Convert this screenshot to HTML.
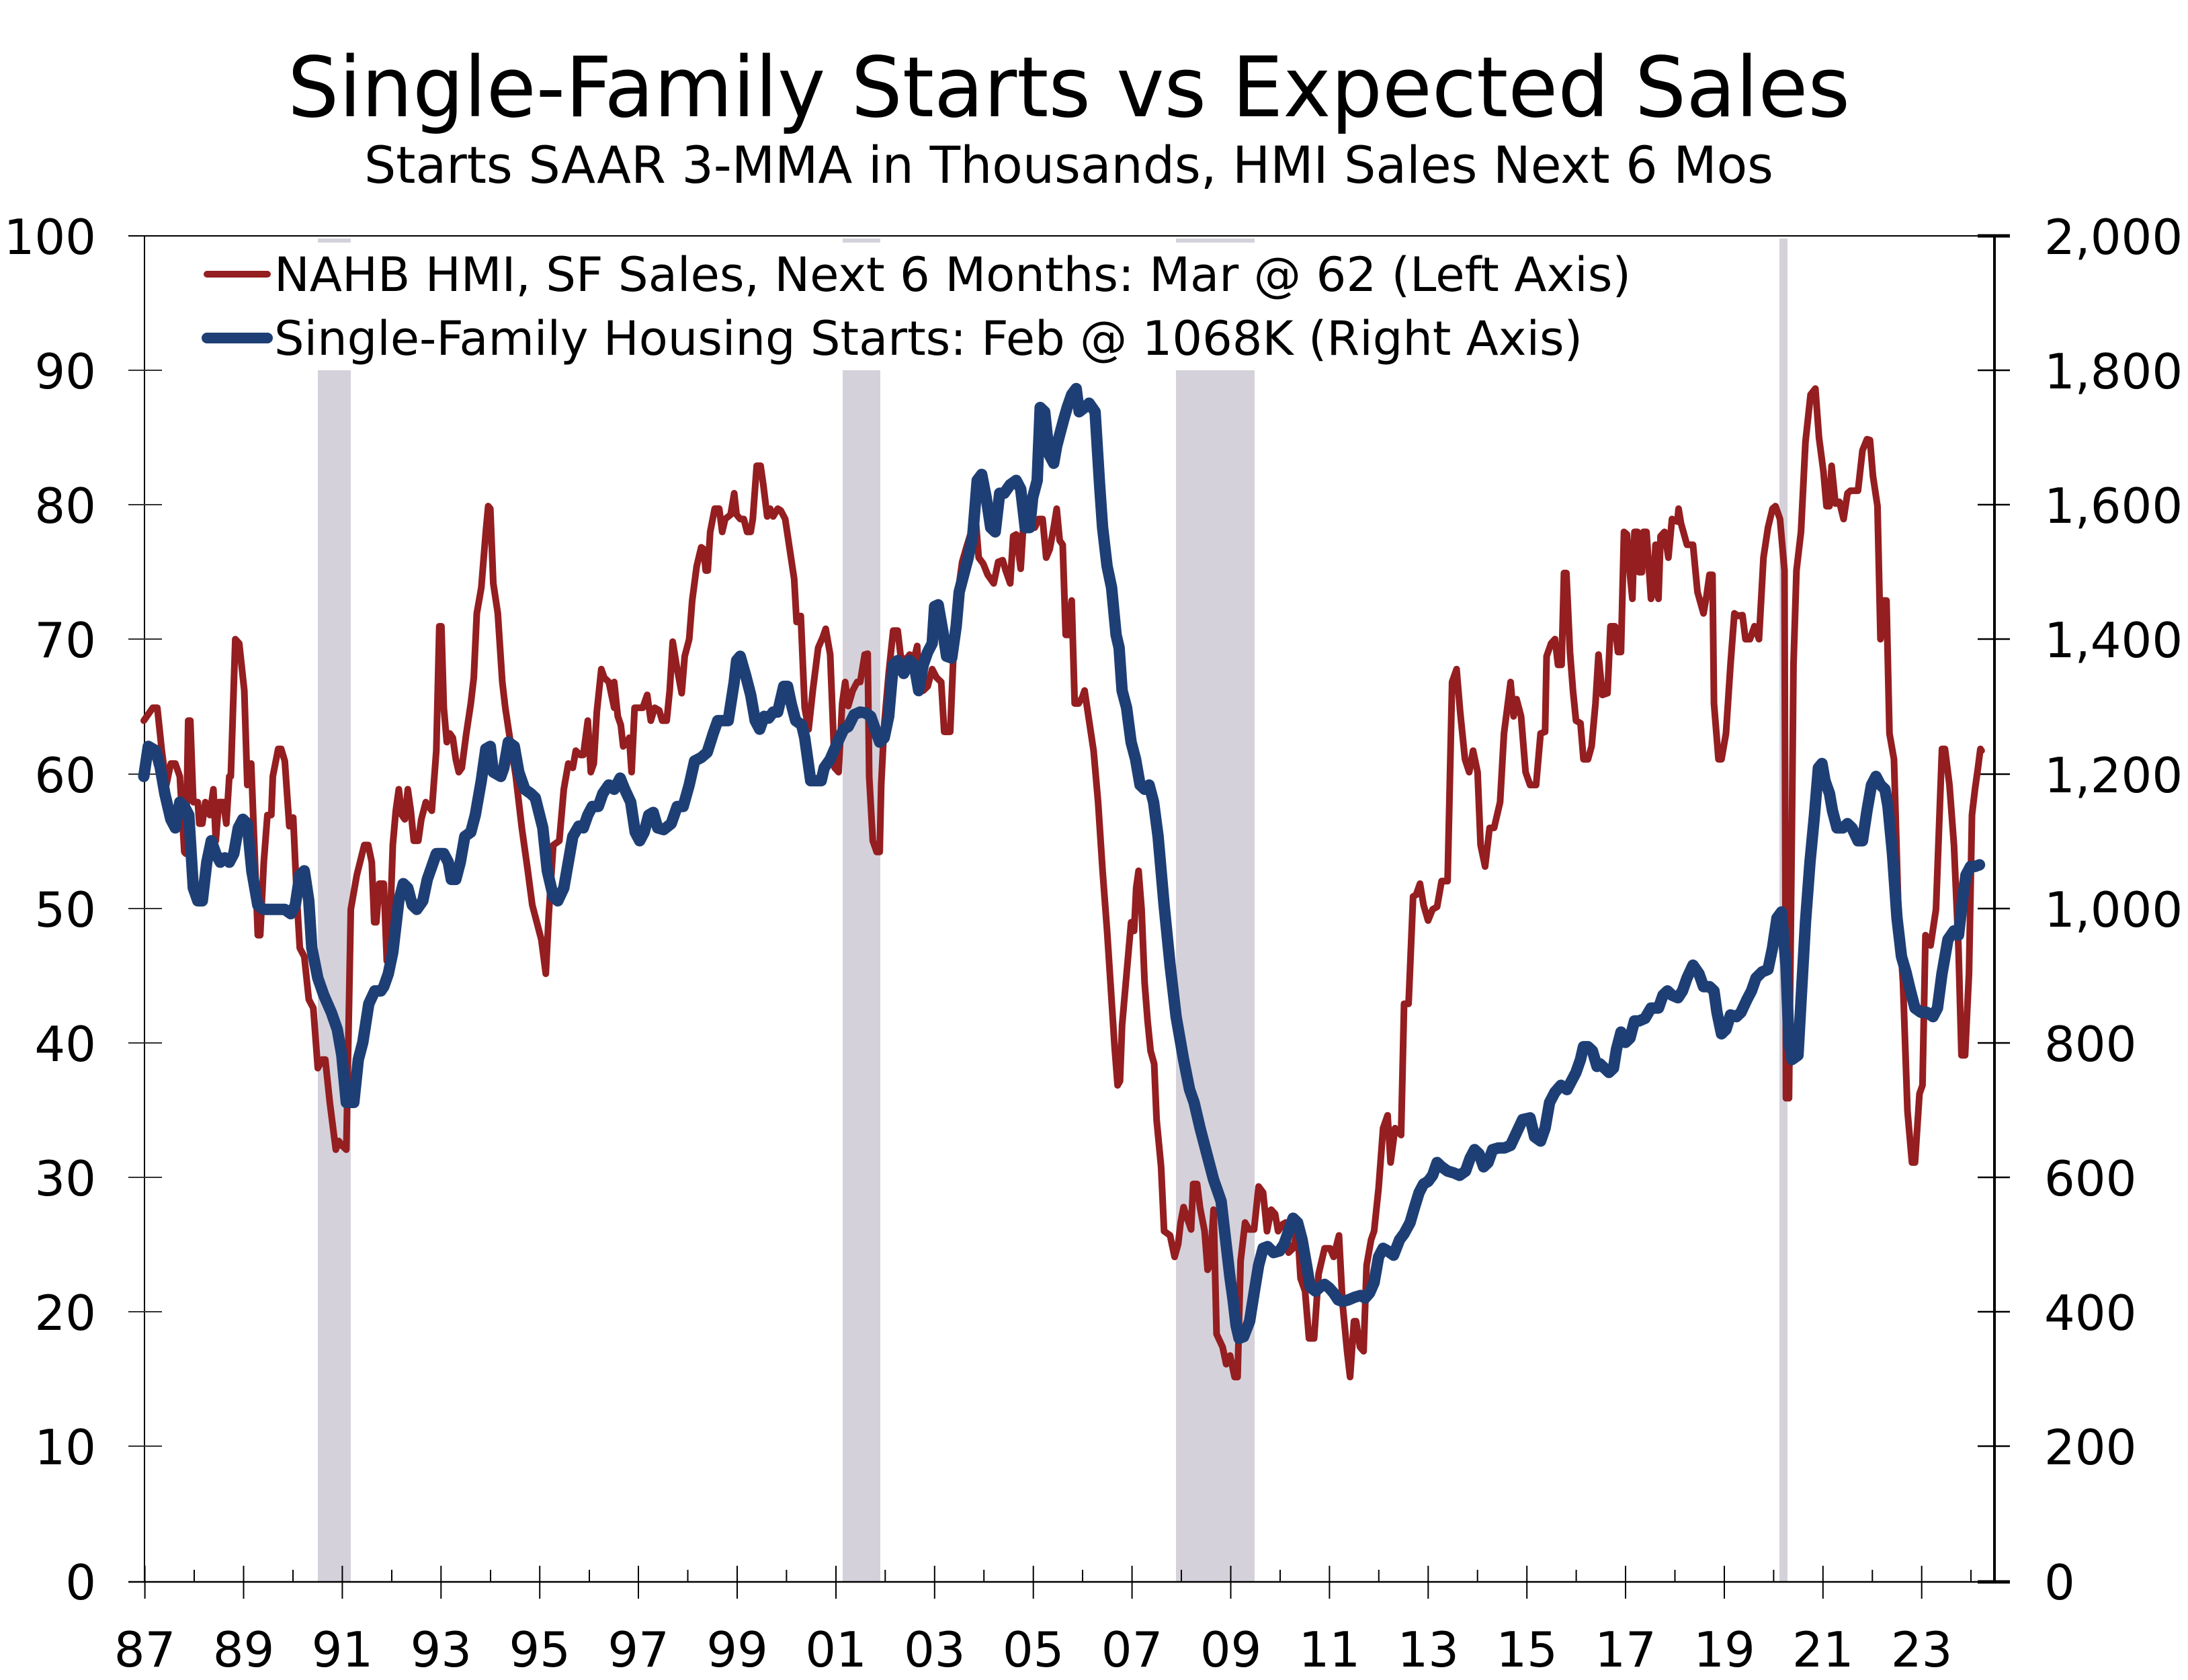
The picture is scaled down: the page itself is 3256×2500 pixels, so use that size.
<!DOCTYPE html>
<html><head><meta charset="utf-8"><style>
html,body{margin:0;padding:0;background:#fff;}
svg{display:block;}
text{font-family:"DejaVu Sans","Liberation Sans",sans-serif;fill:#000;}
</style></head><body>
<svg width="3256" height="2500" viewBox="0 0 3256 2500" xmlns="http://www.w3.org/2000/svg">
<rect width="3256" height="2500" fill="#fff"/>
<g fill="#d5d1da">
<rect x="473" y="355" width="49" height="1998"/>
<rect x="1254" y="355" width="56" height="1998"/>
<rect x="1750" y="355" width="117" height="1998"/>
<rect x="2648" y="355" width="12" height="1998"/>
</g>
<rect x="217" y="361" width="2300" height="190" fill="#fff"/>
<line x1="191" y1="351" x2="2968" y2="351" stroke="#000" stroke-width="2"/>
<line x1="215" y1="351" x2="215" y2="2354" stroke="#000" stroke-width="2"/>
<line x1="2968" y1="351" x2="2968" y2="2354" stroke="#000" stroke-width="4"/>
<line x1="191" y1="2354" x2="2991" y2="2354" stroke="#000" stroke-width="2.5"/>
<g stroke="#333" stroke-width="2">
<line x1="191" y1="551" x2="241" y2="551"/><line x1="191" y1="751" x2="241" y2="751"/>
<line x1="191" y1="951" x2="241" y2="951"/><line x1="191" y1="1152" x2="241" y2="1152"/>
<line x1="191" y1="1352" x2="241" y2="1352"/><line x1="191" y1="1552" x2="241" y2="1552"/>
<line x1="191" y1="1752" x2="241" y2="1752"/><line x1="191" y1="1952" x2="241" y2="1952"/>
<line x1="191" y1="2152" x2="241" y2="2152"/>
</g>
<g stroke="#000" stroke-width="2.5">
<line x1="2943" y1="351" x2="2991" y2="351" stroke-width="5"/>
<line x1="2943" y1="551" x2="2991" y2="551"/><line x1="2943" y1="751" x2="2991" y2="751"/>
<line x1="2943" y1="951" x2="2991" y2="951"/><line x1="2943" y1="1152" x2="2991" y2="1152"/>
<line x1="2943" y1="1352" x2="2991" y2="1352"/><line x1="2943" y1="1552" x2="2991" y2="1552"/>
<line x1="2943" y1="1752" x2="2991" y2="1752"/><line x1="2943" y1="1952" x2="2991" y2="1952"/>
<line x1="2943" y1="2152" x2="2991" y2="2152"/>
<line x1="2943" y1="2354" x2="2991" y2="2354" stroke-width="5"/>
</g>
<g stroke="#000" stroke-width="2">
<line x1="215.6" y1="2330" x2="215.6" y2="2379"/><line x1="289" y1="2336" x2="289" y2="2354"/>
<line x1="362.5" y1="2330" x2="362.5" y2="2379"/><line x1="436" y1="2336" x2="436" y2="2354"/>
<line x1="509.4" y1="2330" x2="509.4" y2="2379"/><line x1="583" y1="2336" x2="583" y2="2354"/>
<line x1="656.3" y1="2330" x2="656.3" y2="2379"/><line x1="730" y1="2336" x2="730" y2="2354"/>
<line x1="803.2" y1="2330" x2="803.2" y2="2379"/><line x1="877" y1="2336" x2="877" y2="2354"/>
<line x1="950" y1="2330" x2="950" y2="2379"/><line x1="1023.5" y1="2336" x2="1023.5" y2="2354"/>
<line x1="1097" y1="2330" x2="1097" y2="2379"/><line x1="1170.4" y1="2336" x2="1170.4" y2="2354"/>
<line x1="1244" y1="2330" x2="1244" y2="2379"/><line x1="1317.3" y1="2336" x2="1317.3" y2="2354"/>
<line x1="1390.8" y1="2330" x2="1390.8" y2="2379"/><line x1="1464.2" y1="2336" x2="1464.2" y2="2354"/>
<line x1="1537.7" y1="2330" x2="1537.7" y2="2379"/><line x1="1611" y1="2336" x2="1611" y2="2354"/>
<line x1="1684.6" y1="2330" x2="1684.6" y2="2379"/><line x1="1758" y1="2336" x2="1758" y2="2354"/>
<line x1="1831.5" y1="2330" x2="1831.5" y2="2379"/><line x1="1905" y1="2336" x2="1905" y2="2354"/>
<line x1="1978.4" y1="2330" x2="1978.4" y2="2379"/><line x1="2051.8" y1="2336" x2="2051.8" y2="2354"/>
<line x1="2125.3" y1="2330" x2="2125.3" y2="2379"/><line x1="2198.7" y1="2336" x2="2198.7" y2="2354"/>
<line x1="2272.2" y1="2330" x2="2272.2" y2="2379"/><line x1="2345.6" y1="2336" x2="2345.6" y2="2354"/>
<line x1="2419" y1="2330" x2="2419" y2="2379"/><line x1="2492.5" y1="2336" x2="2492.5" y2="2354"/>
<line x1="2566" y1="2330" x2="2566" y2="2379"/><line x1="2639.4" y1="2336" x2="2639.4" y2="2354"/>
<line x1="2712.8" y1="2330" x2="2712.8" y2="2379"/><line x1="2786.3" y1="2336" x2="2786.3" y2="2354"/>
<line x1="2859.7" y1="2330" x2="2859.7" y2="2379"/><line x1="2933" y1="2336" x2="2933" y2="2354"/>
</g>
<g fill="none" stroke="#941e20" stroke-width="10" stroke-linejoin="round" stroke-linecap="round">
<polyline vector-effect="non-scaling-stroke" transform="translate(214,351) scale(0.446429,1.276786)" points="0,565 30,550 45,550 60,600 75,640 90,615 105,615 120,630 135,718 140,720 148,565 155,565 165,660 180,660 185,685 195,685 205,660 220,675 232,645 240,705 250,660 265,660 275,685 285,630 290,630 305,470 318,475 335,530 345,640 358,615 380,815 388,815 400,730 412,675 425,675 430,630 448,598 458,598 470,612 485,688 498,678 510,770 520,830 535,840 550,890 565,900 580,970 595,960 605,960 620,1010 640,1065 650,1055 660,1060 675,1065 690,785 710,745 735,710 748,710 760,730 768,800 775,800 785,755 800,755 810,845 820,810 830,710 840,670 850,645 860,675 870,680 880,645 890,670 900,705 915,705 925,680 940,660 960,670 975,600 985,455 992,455 1000,550 1010,590 1020,580 1030,585 1040,610 1050,625 1060,620 1075,580 1090,545 1100,515 1110,440 1125,410 1140,345 1148,315 1155,318 1165,405 1180,440 1195,520 1205,550 1220,585 1240,630 1260,690 1280,740 1295,780 1310,800 1325,820 1340,860 1350,790 1365,710 1385,705 1400,645 1415,615 1430,620 1440,600 1455,605 1465,605 1480,565 1490,625 1500,615 1510,555 1525,505 1535,515 1550,520 1568,550"/>
<polyline vector-effect="non-scaling-stroke" transform="translate(914,351) scale(0.446429,1.276786)" points="0,520 12,560 22,570 30,595 45,590 50,585 58,625 68,550 95,550 110,535 122,565 135,550 150,553 160,565 175,565 185,530 195,473 210,505 225,533 235,490 250,470 260,425 275,385 290,363 298,365 305,390 312,390 320,345 335,318 350,318 360,345 370,330 388,325 400,300 408,325 420,330 432,330 443,345 455,345 462,330 475,268 488,268 497,290 510,327 520,318 530,327 545,318 555,320 570,330 585,365 600,400 608,450 622,443 635,550 648,575 662,530 680,480 695,468 705,458 720,488 735,620 748,625 760,545 770,520 780,548 795,530 810,520 820,520 835,488 845,487 850,630 862,705 875,718 885,718 890,640 900,570 915,510 930,460 945,460 955,490 970,495 985,488 995,500 1010,478 1018,530 1030,530 1045,525 1060,505 1075,515 1090,520 1100,578 1120,578 1130,495 1145,418 1160,380 1175,362 1190,345 1205,330 1215,375 1230,382 1245,395 1265,405 1280,380 1295,378 1305,390 1320,405 1330,350 1340,348 1355,388 1365,330 1390,330 1402,340 1415,330 1428,330 1440,375 1452,365 1465,340 1475,318 1485,355 1495,360 1505,465 1515,465 1525,425 1535,545 1548,545 1560,538 1568,530"/>
<polyline vector-effect="non-scaling-stroke" transform="translate(1614,351) scale(0.446429,1.276786)" points="0,530 15,565 30,600 45,660 60,740 75,810 88,880 100,945 110,990 118,985 125,920 135,880 145,840 155,800 165,810 172,760 180,740 190,785 200,870 210,915 220,950 232,965 240,1030 255,1085 265,1160 285,1165 300,1190 312,1175 320,1150 330,1132 345,1148 355,1158 362,1105 375,1105 385,1133 400,1160 410,1205 418,1200 430,1135 440,1280 460,1295 472,1315 485,1305 500,1330 510,1330 520,1195 535,1150 548,1158 565,1158 580,1108 595,1115 608,1160 622,1135 635,1140 645,1160 660,1152 670,1150 680,1185 695,1180 710,1160 720,1215 735,1230 748,1285 765,1285 780,1210 800,1180 818,1180 830,1190 848,1165 860,1245 875,1300 885,1330 898,1265 905,1265 918,1295 930,1300 940,1200 955,1170 965,1160 980,1110 995,1040 1010,1025 1020,1080 1035,1040 1055,1048 1065,895 1080,895 1095,770 1105,768 1118,755 1130,780 1145,798 1160,785 1175,782 1190,752 1210,752 1225,520 1240,505 1252,555 1268,610 1282,625 1295,600 1310,625 1320,710 1335,735 1350,690 1365,690 1385,660 1398,580 1420,520 1430,560 1440,540 1455,560 1470,625 1485,640 1505,640 1520,580 1535,578 1540,490 1555,475 1568,470"/>
<polyline vector-effect="non-scaling-stroke" transform="translate(2314,351) scale(0.446429,1.276786)" points="0,470 10,500 22,500 30,393 38,393 50,485 60,530 70,565 85,568 95,610 110,610 122,595 135,545 145,488 158,535 175,533 185,455 200,455 210,485 220,485 230,345 240,348 250,395 258,423 265,345 275,345 280,392 290,392 295,345 305,345 320,423 328,415 335,360 345,423 352,350 365,345 378,375 390,330 408,333 412,318 420,335 440,360 460,360 475,415 495,440 505,420 515,395 525,395 530,545 545,610 555,610 570,580 585,500 598,440 610,443 625,442 635,470 650,470 665,455 680,470 695,375 710,340 725,318 735,315 750,330 765,390 770,1005 780,1005 790,680 795,500 805,390 820,345 835,240 852,185 868,178 880,235 895,275 905,315 915,315 922,268 935,312 948,310 962,330 975,300 985,297 1010,297 1025,250 1040,237 1050,238 1060,280 1075,315 1085,470 1095,425 1105,425 1115,580 1130,610 1145,790 1160,870 1175,1020 1190,1080 1200,1080 1215,1000 1225,990 1235,815 1252,827 1270,785 1290,598 1300,598 1315,640 1330,710 1345,830 1355,955 1367,955 1380,860 1390,675 1400,645 1410,620 1418,598 1422,600"/>
</g>
<g fill="none" stroke="#1e3f75" stroke-width="17" stroke-linejoin="round" stroke-linecap="round">
<polyline vector-effect="non-scaling-stroke" transform="translate(214,351) scale(0.446429,1.276786)" points="0,630 15,595 40,600 55,620 70,650 90,680 105,690 120,660 135,665 150,675 165,760 180,775 195,775 210,730 225,705 240,720 255,730 270,725 285,730 300,720 315,690 330,680 345,685 360,740 380,780 400,785 420,785 440,785 470,785 490,790 505,780 520,745 535,740 550,775 560,830 580,865 600,885 625,905 645,925 660,955 675,1010 700,1010 715,960 730,940 750,895 770,880 790,880 800,875 815,860 830,835 850,775 865,755 880,760 895,780 910,785 930,775 945,750 960,735 975,720 1000,720 1015,730 1025,750 1040,750 1055,730 1070,700 1090,695 1105,675 1125,635 1140,598 1155,595 1165,625 1190,630 1200,620 1215,590 1235,595 1250,625 1270,645 1290,650 1305,655 1330,690 1345,740 1365,770 1380,775 1400,760 1415,730 1430,700 1450,688 1465,690 1480,675 1495,665 1515,665 1530,650 1550,640 1568,642"/>
<polyline vector-effect="non-scaling-stroke" transform="translate(914,351) scale(0.446429,1.276786)" points="0,645 20,632 35,645 55,660 70,695 85,705 100,695 115,675 130,672 145,690 165,692 190,685 210,665 230,665 250,640 268,612 290,608 310,602 330,580 345,565 380,565 400,520 408,495 420,490 438,512 455,535 470,565 485,575 500,560 515,562 530,555 545,555 565,525 578,525 590,545 605,565 625,570 635,585 645,610 655,635 670,635 690,635 700,620 720,610 745,590 765,575 780,572 800,558 820,555 838,556 855,560 870,575 885,590 900,585 915,560 930,500 945,495 965,510 985,495 1000,500 1015,530 1030,500 1045,485 1060,475 1068,432 1080,430 1095,460 1108,490 1125,492 1140,455 1150,415 1165,395 1180,375 1195,350 1210,285 1225,278 1240,305 1255,340 1270,345 1285,300 1300,300 1320,290 1340,285 1355,295 1370,340 1385,340 1395,305 1410,285 1420,200 1435,205 1450,255 1465,265 1475,245 1490,225 1500,212 1510,200 1525,185 1540,178 1550,205 1568,200"/>
<polyline vector-effect="non-scaling-stroke" transform="translate(1614,351) scale(0.446429,1.276786)" points="0,200 15,195 35,205 50,290 60,340 75,385 90,410 105,465 115,480 125,530 140,550 155,590 170,610 185,640 200,645 215,640 230,660 245,700 265,780 285,850 305,910 330,960 350,995 365,1010 385,1040 400,1060 415,1080 430,1100 445,1115 455,1125 470,1170 485,1215 495,1240 505,1270 515,1285 530,1283 550,1265 565,1232 580,1200 595,1180 610,1178 630,1185 650,1183 665,1175 680,1160 695,1145 710,1150 725,1170 740,1200 752,1225 770,1230 785,1225 800,1222 815,1226 830,1232 845,1240 860,1242 880,1240 900,1237 920,1235 935,1238 950,1232 965,1220 980,1190 995,1180 1010,1183 1030,1188 1050,1170 1065,1163 1085,1150 1100,1132 1115,1115 1130,1105 1145,1102 1160,1095 1175,1080 1190,1085 1210,1090 1230,1092 1250,1095 1270,1090 1285,1075 1300,1065 1315,1070 1330,1085 1345,1080 1360,1065 1380,1063 1400,1063 1420,1060 1440,1045 1460,1030 1485,1028 1500,1050 1520,1055 1535,1040 1550,1010 1568,998"/>
<polyline vector-effect="non-scaling-stroke" transform="translate(2314,351) scale(0.446429,1.276786)" points="0,998 20,990 40,995 55,985 70,975 85,960 95,945 110,945 125,950 140,968 150,965 165,970 180,975 195,970 205,948 220,928 235,940 250,935 265,915 280,915 300,912 320,900 345,900 360,885 375,880 390,885 410,888 425,880 440,865 460,850 480,860 495,875 515,875 530,880 540,905 555,930 570,925 585,908 605,910 620,905 640,890 655,880 670,865 690,858 710,855 725,830 740,795 755,788 770,850 780,940 790,960 810,955 822,880 835,800 850,730 865,675 878,620 890,615 900,635 915,650 925,670 940,690 960,690 975,685 990,690 1010,705 1025,705 1040,670 1055,640 1070,630 1085,640 1100,645 1110,665 1125,720 1140,795 1155,840 1170,858 1185,880 1200,900 1220,905 1240,905 1260,910 1275,900 1290,860 1300,840 1310,820 1330,810 1345,815 1360,770 1370,745 1385,735 1400,735 1415,733"/>
</g>
<line x1="308" y1="408" x2="398" y2="408" stroke="#941e20" stroke-width="10" stroke-linecap="round"/>
<line x1="308" y1="503" x2="398" y2="503" stroke="#1e3f75" stroke-width="16" stroke-linecap="round"/>
<text x="408" y="433" font-size="70" textLength="2019" lengthAdjust="spacingAndGlyphs">NAHB HMI, SF Sales, Next 6 Months: Mar @ 62 (Left Axis)</text>
<text x="408" y="528" font-size="70" textLength="1947" lengthAdjust="spacingAndGlyphs">Single-Family Housing Starts: Feb @ 1068K (Right Axis)</text>
<text x="428" y="173" font-size="124" textLength="2325" lengthAdjust="spacingAndGlyphs">Single-Family Starts vs Expected Sales</text>
<text x="542" y="272" font-size="76" textLength="2097" lengthAdjust="spacingAndGlyphs">Starts SAAR 3-MMA in Thousands, HMI Sales Next 6 Mos</text>
<g font-size="72" text-anchor="end">
<text x="143" y="378">100</text><text x="143" y="578">90</text><text x="143" y="778">80</text>
<text x="143" y="978">70</text><text x="143" y="1179">60</text><text x="143" y="1379">50</text>
<text x="143" y="1579">40</text><text x="143" y="1779">30</text><text x="143" y="1979">20</text>
<text x="143" y="2179">10</text><text x="143" y="2380">0</text>
</g>
<g font-size="72">
<text x="3042" y="378">2,000</text><text x="3042" y="578">1,800</text><text x="3042" y="778">1,600</text>
<text x="3042" y="978">1,400</text><text x="3042" y="1179">1,200</text><text x="3042" y="1379">1,000</text>
<text x="3042" y="1579">800</text><text x="3042" y="1779">600</text><text x="3042" y="1979">400</text>
<text x="3042" y="2179">200</text><text x="3042" y="2380">0</text>
</g>
<g font-size="72" text-anchor="middle">
<text x="215.6" y="2480">87</text><text x="362.5" y="2480">89</text><text x="509.4" y="2480">91</text>
<text x="656.3" y="2480">93</text><text x="803.2" y="2480">95</text><text x="950" y="2480">97</text>
<text x="1097" y="2480">99</text><text x="1244" y="2480">01</text><text x="1390.8" y="2480">03</text>
<text x="1537.7" y="2480">05</text><text x="1684.6" y="2480">07</text><text x="1831.5" y="2480">09</text>
<text x="1978.4" y="2480">11</text><text x="2125.3" y="2480">13</text><text x="2272.2" y="2480">15</text>
<text x="2419" y="2480">17</text><text x="2566" y="2480">19</text><text x="2712.8" y="2480">21</text>
<text x="2859.7" y="2480">23</text>
</g>
</svg>
</body></html>
